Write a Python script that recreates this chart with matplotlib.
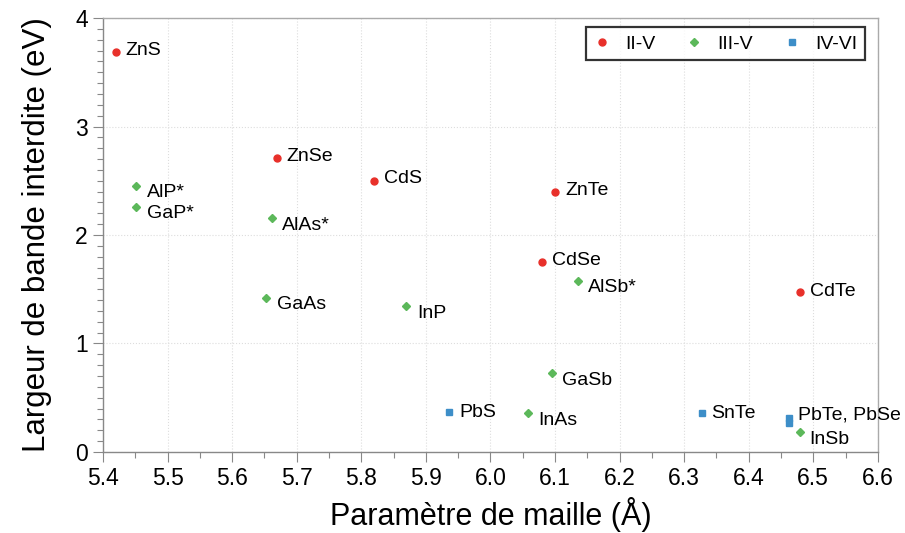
import matplotlib
matplotlib.use('Agg')
import matplotlib.pyplot as plt
from matplotlib.ticker import MultipleLocator

plt.rcParams['font.family'] = ['Liberation Sans', 'DejaVu Sans']

# II-V
names_2 = ['ZnS', 'ZnSe', 'CdS', 'ZnTe', 'CdSe', 'CdTe']
a_2 = [5.42, 5.669, 5.82, 6.10, 6.08, 6.48]
eg_2 = [3.69, 2.71, 2.50, 2.40, 1.75, 1.475]

# III-V
names_3 = ['AlP*', 'GaP*', 'AlAs*', 'GaAs', 'InP', 'AlSb*', 'GaSb', 'InAs', 'InSb']
a_3 = [5.451, 5.451, 5.661, 5.653, 5.869, 6.136, 6.096, 6.058, 6.479]
eg_3 = [2.45, 2.26, 2.16, 1.42, 1.35, 1.58, 0.73, 0.36, 0.18]

# IV-VI
names_4 = ['PbS', 'SnTe', 'PbTe, PbSe', '']
a_4 = [5.936, 6.327, 6.462, 6.462]
eg_4 = [0.37, 0.36, 0.31, 0.27]

red = '#e8302a'
green = '#5cb85a'
blue = '#3d8ec8'

# label offsets in pixels (dx right, dy down)
off_2 = [(9, -3), (10, -3), (10, -4), (10, -3), (10, -3), (10, -2)]
off_3 = [(11, 5), (11, 5), (10, 6), (11, 5), (11, 6), (10, 5), (10, 6), (10, 6), (10, 6)]
off_4 = [(10, -1), (10, -1), (9, -5), (0, 0)]

fig = plt.figure(figsize=(9.05, 5.33), dpi=100)
ax = fig.add_axes([0.1138, 0.152, 0.8562, 0.8142])

ax.plot(a_2, eg_2, 'o', color=red, ms=5, label='II-V', zorder=3)
ax.plot(a_3, eg_3, 'D', color=green, ms=4.2, label='III-V', zorder=3)
ax.plot(a_4, eg_4, 's', color=blue, ms=5, label='IV-VI', zorder=3)

px = 0.72
for names, xs, ys, offs in [(names_2, a_2, eg_2, off_2),
                            (names_3, a_3, eg_3, off_3),
                            (names_4, a_4, eg_4, off_4)]:
    for n, x, y, (dx, dy) in zip(names, xs, ys, offs):
        if n:
            ax.annotate(n, (x, y), xytext=(dx * px, -(dy + 1.5) * px), textcoords='offset points',
                        ha='left', va='center', fontsize=14)

ax.set_xlim(5.4, 6.6)
ax.set_ylim(0, 4)
ax.xaxis.set_minor_locator(MultipleLocator(0.05))
ax.yaxis.set_major_locator(MultipleLocator(1))
ax.yaxis.set_minor_locator(MultipleLocator(0.1))
ax.set_xticks([5.4 + 0.1 * i for i in range(13)])
ax.set_xticklabels(['%.1f' % (5.4 + 0.1 * i) for i in range(13)])

ax.tick_params(which='major', direction='out', length=7, width=0.8, color='#888888',
               labelsize=16.5, pad=4)
ax.tick_params(which='minor', direction='out', length=4, width=0.8, color='#888888')
for s in ax.spines.values():
    s.set_color('#aaaaaa')
    s.set_linewidth(1.0)
ax.spines['left'].set_color('#888888')
ax.spines['bottom'].set_color('#888888')

ax.grid(True, which='major', linestyle=':', color='#dddddd', linewidth=0.8)
ax.set_axisbelow(True)

ax.set_xlabel('Paramètre de maille (Å)', fontsize=22, labelpad=5)
ax.set_ylabel('Largeur de bande interdite (eV)', fontsize=22.5)
ax.yaxis.set_label_coords(-0.066, 0.5)

leg = ax.legend(loc='upper right', ncol=3, fontsize=14, frameon=True, fancybox=False,
                bbox_to_anchor=(0.983, 0.979), borderaxespad=0, handletextpad=0.79,
                columnspacing=1.6, borderpad=0.4, handlelength=0.8)
leg.get_frame().set_edgecolor('black')
leg.get_frame().set_linewidth(1.6)

fig.savefig('out.png', dpi=100)
